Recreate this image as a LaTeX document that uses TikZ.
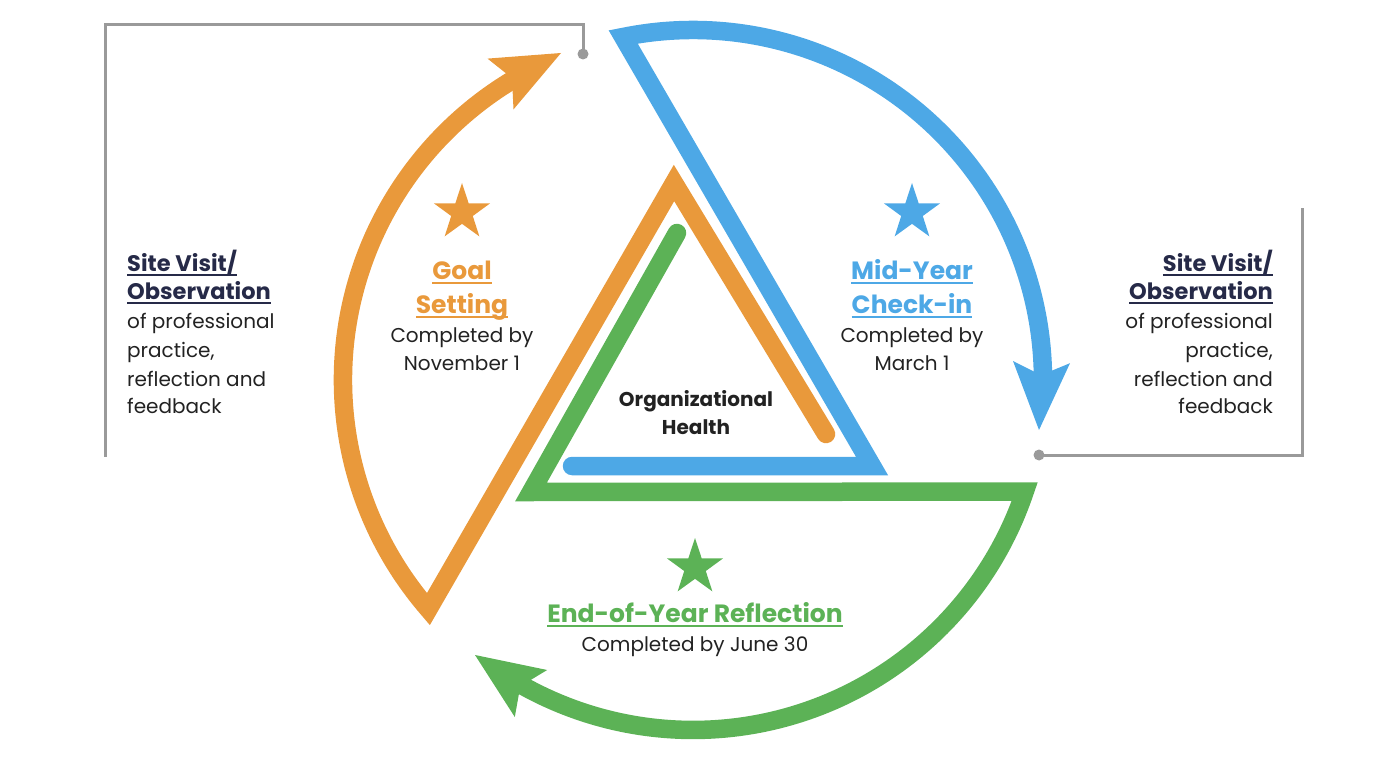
\documentclass[tikz,border=0pt]{standalone}
\usepackage{fontspec}
\setmainfont{Poppins}
\usetikzlibrary{shapes.geometric}
\definecolor{cO}{HTML}{E9993B}
\definecolor{cB}{HTML}{4DA8E6}
\definecolor{cG}{HTML}{5CB256}
\definecolor{cN}{HTML}{262A48}
\definecolor{cT}{HTML}{222222}
\definecolor{cL}{HTML}{9A9A9A}
\newcommand\myul[1]{\setbox0\hbox{#1}\rlap{\rule[-4.5pt]{\wd0}{1.8pt}}\box0}
\begin{document}
\begin{tikzpicture}[x=1pt,y=-1pt,
  band/.style={line width=18.5pt, line cap=round, line join=miter},
  body/.style={font=\fontsize{20}{24}\selectfont, text=cT, inner sep=0pt, anchor=base},
  head/.style={font=\fontsize{25}{30}\selectfont\bfseries, inner sep=0pt, anchor=base},
  sidehead/.style={font=\fontsize{22.5}{26}\selectfont\bfseries, text=cN, inner sep=0pt, anchor=base},
  centre/.style={font=\fontsize{20}{24}\selectfont\bfseries, text=cT, inner sep=0pt, anchor=base},
  starmark/.style={star, star points=5, star point ratio=2.6, minimum size=59pt, inner sep=0pt, draw=none},
  guide/.style={draw=cL, line width=3pt},
]
\useasboundingbox (0,0) rectangle (1390,762);

% guide brackets
\coordinate (dotL) at (583,54);
\coordinate (dotR) at (1039,455);
\draw[guide] (dotL) -- (583,25) -- (105,25) -- (105,457);
\draw[guide] (dotR) -- (1302,455) -- (1302,208);
\fill[cL] (dotL) circle[radius=5.5pt];
\fill[cL] (dotR) circle[radius=5.5pt];

% orange band
\coordinate (oCap) at (826,434);
\coordinate (oApex) at (674,183);
\coordinate (oV) at (428.4,609.1);
\draw[band, cO] (oCap) -- (oApex) -- (oV) arc[start angle=139.1, end angle=240, radius=350];
\fill[cO] (561,53) -- (487.5,58.6) -- (512,78.1) -- (513.5,109.4) -- cycle;

% blue band
\coordinate (bCap) at (572,466);
\coordinate (bCorner) at (872,466);
\coordinate (bTop) at (623.2,37);
\draw[band, cB] (bCap) -- (bCorner) -- (bTop) arc[start angle=258.5, end angle=361, radius=350];
\fill[cB] (1039,430) -- (1013,361) -- (1041,375.1) -- (1070,363.2) -- cycle;

% green band
\coordinate (gCap) at (677,233);
\coordinate (gCorner) at (531,492);
\coordinate (gRight) at (1024.7,491.6);
\draw[band, cG] (gCap) -- (gCorner) -- (gRight) arc[start angle=18.6, end angle=120.6, radius=350];
\fill[cG] (475,655) -- (547.2,670) -- (520.3,686.2) -- (514.8,717) -- cycle;

% stars
\node[starmark, fill=cO] (sO) at (462,212.5) {};
\node[starmark, fill=cB] (sB) at (912,212.5) {};
\node[starmark, fill=cG] (sG) at (695,567.5) {};

% centre text
\node[centre] (c1) at (696,406) {Organizational};
\node[centre] (c2) at (696,434) {Health};

% goal setting
\node[head, text=cO] (o1) at (462,279.3) {\myul{Goal}};
\node[head, text=cO] (o2) at (462,313.3) {\myul{Setting}};
\node[body] (o3) at (462,342.7) {Completed by};
\node[body] (o4) at (462,370) {November 1};

% mid-year
\node[head, text=cB] (b1) at (912,279.3) {\myul{Mid-Year}};
\node[head, text=cB] (b2) at (912,313.3) {\myul{Check-in}};
\node[body] (b3) at (912,342.7) {Completed by};
\node[body] (b4) at (912,370) {March 1};

% end of year
\node[head, text=cG] (g1) at (695,622.3) {\myul{End-of-Year Reflection}};
\node[body] (g2) at (695,651) {Completed by June 30};

% left side text
\node[sidehead, anchor=base west] (l1) at (127,271.7) {\myul{Site Visit/}};
\node[sidehead, anchor=base west] (l2) at (127,299) {\myul{Observation}};
\node[body, anchor=base west] (l3) at (127,328.3) {of professional};
\node[body, anchor=base west] (l4) at (127,357) {practice,};
\node[body, anchor=base west] (l5) at (127,386) {reflection and};
\node[body, anchor=base west] (l6) at (127,413) {feedback};

% right side text
\node[sidehead, anchor=base east] (r1) at (1273,271.7) {\myul{Site Visit/}};
\node[sidehead, anchor=base east] (r2) at (1273,299) {\myul{Observation}};
\node[body, anchor=base east] (r3) at (1273,328.3) {of professional};
\node[body, anchor=base east] (r4) at (1273,357) {practice,};
\node[body, anchor=base east] (r5) at (1273,386) {reflection and};
\node[body, anchor=base east] (r6) at (1273,413) {feedback};
\end{tikzpicture}
\end{document}
